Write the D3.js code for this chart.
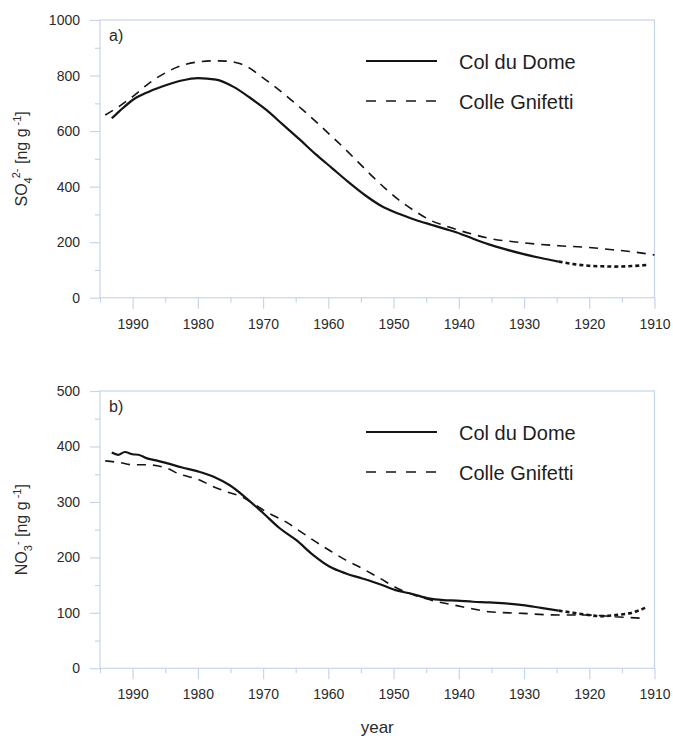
<!DOCTYPE html>
<html>
<head>
<meta charset="utf-8">
<script src="https://cdn.jsdelivr.net/npm/d3@7"></script>
<style>
  html, body { margin: 0; padding: 0; background: #fff; }
  svg { display: block; font-family: "Liberation Sans", Arial, sans-serif; }
</style>
</head>
<body>
<svg id="chart" width="673" height="740"></svg>
<script>
// Sulfate (panel a) — Col du Dome
const so4DomeYears = [1993.2, 1992, 1990, 1987.5, 1984.8, 1982.5, 1980, 1977.2, 1974.6, 1972, 1969.5, 1967, 1964.4, 1962, 1959.4, 1957, 1954.3, 1952, 1949.2, 1946.6, 1944.1, 1942, 1940.3, 1937.8, 1935.4, 1932.8, 1930.2, 1927.4, 1924.7, 1922.4, 1920.1, 1918, 1916.1, 1913.5, 1911];
const so4DomeValues = [646, 672, 712, 742, 766, 782, 791, 785, 760, 720, 676, 624, 570, 518, 466, 418, 368, 332, 302, 280, 262, 247, 235, 212, 192, 174, 158, 143, 130, 121, 115, 113, 112, 114, 118];
// Sulfate (panel a) — Colle Gnifetti
const so4GnifYears = [1994.2, 1992, 1990, 1987.5, 1984.8, 1982.5, 1980, 1977.2, 1975.5, 1973.6, 1972, 1970.6, 1968.3, 1966, 1964, 1961.9, 1959.9, 1957.8, 1955.5, 1953.2, 1951.2, 1949.2, 1946.6, 1944.1, 1942, 1940.3, 1937.8, 1935.4, 1930.2, 1924.7, 1920.1, 1916.1, 1913, 1910];
const so4GnifValues = [658, 690, 724, 772, 812, 836, 849, 853, 852, 843, 826, 802, 762, 718, 678, 634, 590, 544, 490, 436, 392, 352, 310, 276, 258, 245, 228, 214, 198, 187, 181, 172, 164, 154];

// Nitrate (panel b) — Col du Dome
const no3DomeYears = [1993.2, 1992.2, 1991.2, 1990, 1989.1, 1987.9, 1986.4, 1984.8, 1982.4, 1980, 1977.5, 1975.1, 1972.6, 1970, 1967.5, 1964.9, 1962.4, 1959.9, 1957.3, 1954.8, 1952.2, 1949.7, 1947.1, 1944.6, 1942.4, 1940.3, 1937.8, 1935.4, 1932.8, 1930.2, 1927.4, 1924.7, 1922.4, 1920.1, 1918.1, 1916, 1913.9, 1911];
const no3DomeValues = [389, 385, 390, 386, 385, 379, 375, 370, 362, 355, 345, 330, 307, 280, 253, 231, 205, 184, 171, 162, 152, 141, 134, 126, 123, 122, 120, 119, 117, 114, 109, 104, 100, 96, 94, 96, 99, 111];
// Nitrate (panel b) — Colle Gnifetti
const no3GnifYears = [1994.2, 1992, 1990, 1987.9, 1984.8, 1982.8, 1980, 1977.7, 1975.5, 1973.6, 1971.5, 1969.5, 1966.5, 1964.2, 1961.9, 1959.6, 1957.3, 1954.8, 1952.2, 1949.2, 1946.6, 1943.6, 1940.3, 1937.8, 1935.4, 1930.2, 1924.7, 1920.1, 1916.1, 1911.5];
const no3GnifValues = [374, 371, 367, 367, 361, 350, 341, 328, 318, 311, 297, 282, 264, 246, 228, 211, 195, 180, 163, 143, 131, 121, 113, 107, 102, 99, 96, 96, 93, 90];

// Col du Dome is drawn short-dashed for years older than this
const domeDottedFrom = 1924.7;

const seriesNames = ["Col du Dome", "Colle Gnifetti"];
const xTickYears = [1990, 1980, 1970, 1960, 1950, 1940, 1930, 1920, 1910];
const xMinorYears = [1995, 1985, 1975, 1965, 1955, 1945, 1935, 1925, 1915];
const yearDomain = [1995, 1910];

const panels = [
  { tag: "a)", top: 20, bottom: 297.7, yMax: 1000, yTicks: [0, 200, 400, 600, 800, 1000], yMinor: [100, 300, 500, 700, 900],
    dome: [so4DomeYears, so4DomeValues], gnif: [so4GnifYears, so4GnifValues], title: "so4" },
  { tag: "b)", top: 391, bottom: 668.3, yMax: 500, yTicks: [0, 100, 200, 300, 400, 500], yMinor: [50, 150, 250, 350, 450],
    dome: [no3DomeYears, no3DomeValues], gnif: [no3GnifYears, no3GnifValues], title: "no3" }
];

const svg = d3.select("#chart");
const left = 100, right = 654.5;
const axisColor = "#c6d6ea";
const textColor = "#2b2b2b";
const lineColor = "#141414";

const x = d3.scaleLinear().domain(yearDomain).range([left, right]);

panels.forEach(p => {
  const y = d3.scaleLinear().domain([0, p.yMax]).range([p.bottom, p.top]);
  const g = svg.append("g");

  // frame
  g.append("rect")
    .attr("x", left).attr("y", p.top)
    .attr("width", right - left).attr("height", p.bottom - p.top)
    .attr("fill", "none").attr("stroke", axisColor).attr("stroke-width", 1.2);

  // major / minor y ticks
  const yAxis = g.append("g").attr("transform", `translate(${left},0)`)
    .call(d3.axisLeft(y).tickValues(p.yTicks).tickSize(10).tickPadding(10).tickFormat(d3.format("d")));
  const yMinor = g.append("g").attr("transform", `translate(${left},0)`)
    .call(d3.axisLeft(y).tickValues(p.yMinor).tickSize(5).tickFormat(""));

  // major / minor x ticks
  const xAxis = g.append("g").attr("transform", `translate(0,${p.bottom})`)
    .call(d3.axisBottom(x).tickValues(xTickYears).tickSize(11).tickPadding(10).tickFormat(d3.format("d")));
  const xMinor = g.append("g").attr("transform", `translate(0,${p.bottom})`)
    .call(d3.axisBottom(x).tickValues(xMinorYears).tickSize(5).tickFormat(""));

  [yAxis, yMinor, xAxis, xMinor].forEach(a => {
    a.select(".domain").remove();
    a.selectAll("line").attr("stroke", axisColor).attr("stroke-width", 1.2);
    a.selectAll("text").attr("fill", textColor).style("font-size", "14px")
      .style("font-family", "'Liberation Sans', Arial, sans-serif");
  });

  const line = d3.line().x(d => x(d[0])).y(d => y(d[1])).curve(d3.curveMonotoneX);
  const zip = (ys, vs) => ys.map((yr, i) => [yr, vs[i]]).sort((a, b) => b[0] - a[0]);

  const gnif = zip(p.gnif[0], p.gnif[1]);
  const dome = zip(p.dome[0], p.dome[1]);
  const domeSolid = dome.filter(d => d[0] >= domeDottedFrom);
  const domeDotted = dome.filter(d => d[0] <= domeDottedFrom);

  g.append("path").attr("d", line(gnif))
    .attr("fill", "none").attr("stroke", lineColor).attr("stroke-width", 1.6)
    .attr("stroke-dasharray", "9,7");
  g.append("path").attr("d", line(domeSolid))
    .attr("fill", "none").attr("stroke", lineColor).attr("stroke-width", 2.2);
  g.append("path").attr("d", line(domeDotted))
    .attr("fill", "none").attr("stroke", lineColor).attr("stroke-width", 2.6)
    .attr("stroke-dasharray", "4,3");

  // panel tag
  g.append("text").attr("x", left + 9).attr("y", p.top + 21)
    .attr("fill", textColor).style("font-size", "16px").text(p.tag);

  // legend
  const legY = [p.top + 41, p.top + 81];
  const dashes = [null, "10,10"];
  const widths = [2.2, 1.6];
  seriesNames.forEach((name, i) => {
    g.append("line").attr("x1", 366).attr("x2", 437)
      .attr("y1", legY[i]).attr("y2", legY[i])
      .attr("stroke", lineColor).attr("stroke-width", widths[i])
      .attr("stroke-dasharray", dashes[i]);
    g.append("text").attr("x", 459).attr("y", legY[i] + 7.5)
      .attr("fill", "#1e1e1e").style("font-size", "20px").text(name);
  });

  // y axis title
  const cy = (p.top + p.bottom) / 2;
  const t = g.append("text")
    .attr("transform", `translate(27,${cy}) rotate(-90)`)
    .attr("text-anchor", "middle").attr("fill", textColor).style("font-size", "16px");
  if (p.title === "so4") {
    t.append("tspan").text("SO");
    t.append("tspan").attr("dy", 5).style("font-size", "11px").text("4");
    t.append("tspan").attr("dy", -12).attr("dx", -1).style("font-size", "11px").text("2-");
    t.append("tspan").attr("dy", 7).text(" [ng g");
    t.append("tspan").attr("dy", -6).style("font-size", "11px").text(" -1");
    t.append("tspan").attr("dy", 6).text("]");
  } else {
    t.append("tspan").text("NO");
    t.append("tspan").attr("dy", 5).style("font-size", "11px").text("3");
    t.append("tspan").attr("dy", -11).style("font-size", "11px").text("-");
    t.append("tspan").attr("dy", 6).text(" [ng g");
    t.append("tspan").attr("dy", -6).style("font-size", "11px").text(" -1");
    t.append("tspan").attr("dy", 6).text("]");
  }
});

// x axis title
svg.append("text").attr("x", (left + right) / 2).attr("y", 733)
  .attr("text-anchor", "middle").attr("fill", textColor).style("font-size", "17px").text("year");
</script>
</body>
</html>
